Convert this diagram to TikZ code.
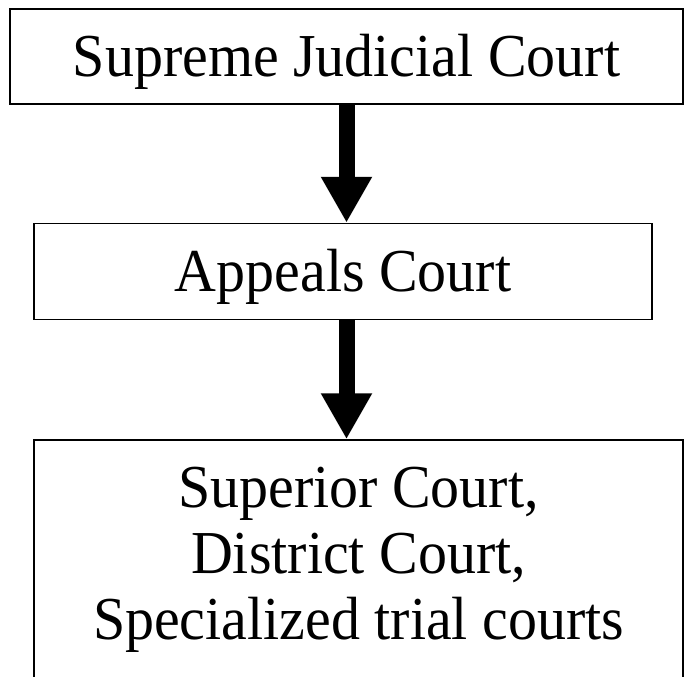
\documentclass[tikz,border=0pt]{standalone}
\usepackage{fontspec}
\setmainfont{Liberation Serif}[FakeStretch=0.95]
\usetikzlibrary{arrows.meta}
\tikzset{
    court/.style={draw, line width=1.5pt, inner sep=0pt, align=center,
        font=\fontsize{61}{66}\selectfont},
    oneline/.style={text height=40pt, text depth=0pt},
    appeal/.style={line width=16pt, -{Triangle[width=48pt,length=46pt]}}
}
\begin{document}
\begin{tikzpicture}[x=1pt,y=1pt]
    \useasboundingbox (0,0) rectangle (688,-677);
    \clip (0,0) rectangle (688,-677);
    \node[court, oneline, minimum width=673pt, minimum height=95pt] (sjc) at (346.5,-56.5) {Supreme Judicial Court};
    \node[court, oneline, minimum width=618pt, minimum height=96pt] (ac) at (343,-271.5) {Appeals Court};
    \node[court, minimum width=649pt, minimum height=239pt] (trial) at (358.5,-559.5) {Superior Court,\\District Court,\\Specialized trial courts};
    \draw[appeal] (sjc.south) -- (sjc.south |- ac.north);
    \draw[appeal] (sjc.south |- ac.south) -- (sjc.south |- trial.north);
\end{tikzpicture}
\end{document}
